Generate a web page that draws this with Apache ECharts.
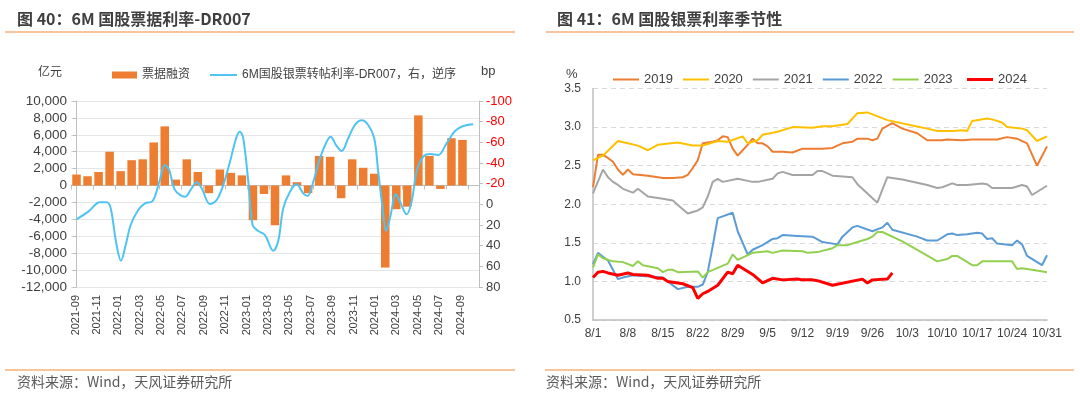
<!DOCTYPE html>
<html><head><meta charset="utf-8">
<script src="https://cdn.jsdelivr.net/npm/echarts@6/dist/echarts.min.js"></script>
<style>html,body{margin:0;padding:0;background:#fff}#c{width:1080px;height:395px}</style>
</head><body><div id="c"></div>
<script>
// ---------- Left chart data ----------
const months = ['2021-09','2021-10','2021-11','2021-12','2022-01','2022-02','2022-03','2022-04','2022-05','2022-06','2022-07','2022-08','2022-09','2022-10','2022-11','2022-12','2023-01','2023-02','2023-03','2023-04','2023-05','2023-06','2023-07','2023-08','2023-09','2023-10','2023-11','2023-12','2024-01','2024-02','2024-03','2024-04','2024-05','2024-06','2024-07','2024-08','2024-09'];
const billFinancing = [1300,1100,1600,4000,1700,3000,3100,5100,7000,700,3100,1600,-900,1900,1500,1200,-4100,-1000,-4700,1200,400,-900,3500,3400,-1500,3100,2100,1400,-9700,-2800,-2500,8300,3500,-400,5600,5400,null];
// spread line: position in months from 2021-09, value in bp
const spreadPos = [0,1.07,2.13,2.74,3.1,3.58,4.03,4.46,4.91,5.6,6.21,6.91,7.51,8.02,8.41,8.93,9.84,10.44,10.9,11.35,12.1,12.71,13.31,13.92,14.52,14.82,15.12,15.58,15.97,16.48,17.09,17.84,18.3,18.75,19.36,19.96,20.56,20.96,21.47,22.08,22.68,23.05,23.53,24.04,24.64,25.25,25.86,26.45,27.0,27.36,27.76,28.06,28.42,28.97,29.33,29.94,30.39,30.84,31.44,32.05,32.8,33.56,34.32,35.07,35.97];
const spreadBp = [14.5,7.1,-2,-2,3.8,36,54.5,39.4,20,5.5,-1,-3.2,-21.9,-38,-33,-13.9,-7.4,-15.5,-21.3,-15.5,-0.3,-4.2,-18.7,-41.3,-65.5,-70.3,-63.9,-21.9,20,25.8,29.7,45,35,3.8,-12.2,-19.4,-10.6,-8.1,-21.9,-44.5,-60.6,-65.5,-57.4,-51.6,-63.9,-76.8,-81.3,-76.8,-63.9,-31.6,3.8,25.8,13.5,-9.7,-2.6,9.7,-2.6,-31.6,-46.1,-48.7,-47.7,-59,-71,-75.8,-77.5];
const barName = '票据融资';
const lineName = '6M国股银票转帖利率-DR007，右，逆序';

// ---------- Right chart data ----------
const dayLabels = [];
[[8,31],[9,30],[10,31]].forEach(([m,n]) => { for (let d = 1; d <= n; d++) dayLabels.push(m + '/' + d); });
const years = ['2019','2020','2021','2022','2023','2024'];
const s2019 = [[0,2.22],[1,2.64],[2,2.64],[3,2.60],[4,2.55],[5,2.45],[6,2.38],[7,2.45],[8,2.39],[11,2.37],[13,2.35],[14,2.34],[16,2.34],[18,2.35],[19,2.38],[20,2.47],[21,2.57],[22,2.79],[24,2.81],[25,2.83],[26,2.88],[27,2.87],[28,2.72],[29,2.63],[30,2.70],[31,2.77],[32,2.85],[33,2.79],[34,2.79],[35,2.75],[36,2.68],[38,2.68],[40,2.67],[42,2.72],[44,2.72],[46,2.72],[48,2.73],[50,2.79],[52,2.81],[53,2.85],[55,2.85],[56,2.83],[57,2.85],[58,2.98],[60,3.05],[62,2.98],[65,2.92],[67,2.83],[70,2.83],[71,2.84],[74,2.83],[76,2.84],[81,2.84],[83,2.87],[85,2.85],[87,2.79],[89,2.50],[91,2.75]];
const s2020 = [[0,2.57],[2,2.63],[5,2.82],[7,2.79],[9,2.76],[11,2.70],[13,2.77],[17,2.80],[20,2.76],[22,2.76],[23,2.78],[25,2.82],[27,2.81],[30,2.88],[31,2.79],[33,2.83],[34,2.90],[37,2.94],[40,3.00],[44,2.99],[46,3.01],[48,3.01],[51,3.04],[53,3.18],[55,3.19],[59,3.09],[64,3.02],[67,2.98],[69,2.95],[72,2.95],[74,2.96],[75,2.95],[76,3.08],[79,3.11],[80,3.10],[82,3.06],[83,3.00],[86,2.98],[87,2.96],[89,2.82],[91,2.88]];
const s2021 = [[0,2.14],[2,2.45],[3,2.35],[4,2.29],[5,2.25],[6,2.20],[8,2.15],[9,2.20],[11,2.10],[14,2.07],[16,2.05],[17,1.99],[19,1.88],[21,1.92],[22,1.96],[23,2.10],[24,2.29],[25,2.33],[26,2.29],[29,2.33],[32,2.29],[33,2.29],[36,2.33],[37,2.40],[38,2.42],[40,2.38],[44,2.38],[45,2.43],[46,2.43],[48,2.37],[52,2.35],[53,2.26],[55,2.14],[57,2.02],[58,2.19],[59,2.35],[62,2.32],[67,2.25],[69,2.21],[70,2.22],[72,2.27],[73,2.25],[75,2.25],[78,2.27],[79,2.26],[80,2.21],[84,2.21],[86,2.25],[87,2.23],[88,2.12],[91,2.24]];
const s2022 = [[0,1.22],[1,1.37],[2,1.32],[3,1.27],[5,1.03],[6,1.05],[8,1.08],[12,1.06],[14,1.05],[15,1.00],[17,0.90],[19,0.93],[21,0.93],[22,0.96],[23,1.12],[24,1.46],[25,1.82],[28,1.89],[29,1.65],[31,1.35],[32,1.41],[34,1.47],[36,1.55],[37,1.56],[38,1.60],[41,1.59],[44,1.58],[46,1.51],[49,1.48],[50,1.58],[52,1.70],[53,1.72],[56,1.65],[58,1.70],[59,1.76],[60,1.67],[65,1.58],[67,1.53],[69,1.53],[71,1.61],[72,1.62],[73,1.60],[75,1.61],[77,1.63],[78,1.62],[79,1.55],[80,1.56],[81,1.49],[84,1.47],[85,1.53],[86,1.48],[87,1.33],[90,1.21],[91,1.34]];
const s2023 = [[0,1.18],[1,1.35],[2,1.30],[4,1.26],[6,1.25],[8,1.20],[9,1.26],[10,1.21],[13,1.17],[14,1.12],[15,1.15],[16,1.15],[17,1.12],[21,1.13],[22,1.05],[23,1.12],[27,1.23],[28,1.35],[29,1.28],[32,1.37],[35,1.39],[36,1.37],[38,1.40],[42,1.39],[43,1.37],[45,1.38],[48,1.43],[49,1.47],[51,1.47],[53,1.51],[55,1.55],[56,1.58],[57,1.64],[58,1.64],[62,1.52],[65,1.41],[69,1.26],[71,1.29],[72,1.33],[73,1.33],[76,1.21],[77,1.21],[78,1.26],[84,1.26],[85,1.16],[86,1.17],[88,1.15],[91,1.12]];
const s2024 = [[0,1.05],[1,1.12],[2,1.13],[3,1.11],[5,1.08],[7,1.11],[8,1.09],[11,1.08],[13,1.04],[14,1.04],[15,1.00],[18,0.97],[20,0.92],[21,0.78],[22,0.84],[23,0.87],[25,0.95],[27,1.12],[28,1.10],[29,1.21],[32,1.09],[34,0.98],[36,1.04],[38,1.02],[41,1.03],[42,1.02],[44,1.02],[45,1.01],[48,0.95],[54,1.03],[55,0.98],[56,1.02],[59,1.03],[60,1.11]];
const yearSeries = [s2019, s2020, s2021, s2022, s2023, s2024];
const yearColors = ['#ED7D31','#FFC000','#A5A5A5','#5B9BD5','#92D050','#FF0000'];
const yearWidths = [2,2,2,2,2,3];

const FONT = "'Liberation Sans', 'Noto Sans CJK SC', sans-serif";
const CJK = "'Noto Sans CJK SC', sans-serif";
const AX = '#BFBFBF', TXT = '#404040';

const chart = echarts.init(document.getElementById('c'), null, {renderer: 'canvas'});
const legendText = {fontSize: 12, color: TXT, fontFamily: FONT};
const option = {
  animation: false,
  textStyle: {fontFamily: FONT},
  grid: [
    {left: 71, top: 101, width: 408, height: 186},
    {left: 593, top: 88.5, width: 454, height: 231.5},
    {left: 75.5, top: 101, width: 385, height: 186}
  ],
  legend: [
    {data: [barName], left: 107, top: 64, itemWidth: 25, itemHeight: 7, icon: 'rect', textStyle: legendText},
    {data: [lineName], left: 205, top: 64, itemWidth: 27, itemHeight: 2, icon: 'rect', textStyle: legendText},
    {data: years.slice(0, 5), left: 608, top: 68, itemWidth: 26, itemHeight: 2, itemGap: 10, icon: 'rect',
     textStyle: {fontSize: 13, color: TXT, fontFamily: FONT}},
    {data: ['2024'], left: 962, top: 68, itemWidth: 26, itemHeight: 3, icon: 'rect',
     textStyle: {fontSize: 13, color: TXT, fontFamily: FONT}}
  ],
  xAxis: [
    {type: 'category', gridIndex: 0, data: months, boundaryGap: true,
     axisLine: {onZero: true, onZeroAxisIndex: 0, lineStyle: {color: AX}},
     axisTick: {show: true, interval: 1, length: 4, lineStyle: {color: AX}},
     axisLabel: {show: false}, splitLine: {show: false}},
    {type: 'category', gridIndex: 2, data: months, boundaryGap: false, position: 'bottom',
     axisLine: {show: false, onZero: false}, axisTick: {show: false},
     axisLabel: {rotate: 90, interval: 1, fontSize: 11, color: TXT, margin: 8}, splitLine: {show: false}},
    {type: 'value', gridIndex: 0, min: -0.5, max: 36.5, show: false},
    {type: 'category', gridIndex: 1, data: dayLabels, boundaryGap: false,
     axisLine: {lineStyle: {color: AX, width: 1.5}}, axisTick: {show: false},
     axisLabel: {interval: 6, fontSize: 12, color: TXT, margin: 8}, splitLine: {show: false}}
  ],
  yAxis: [
    {type: 'value', gridIndex: 0, min: -12000, max: 10000, interval: 2000,
     axisLine: {show: true, lineStyle: {color: AX}},
     axisTick: {show: true, length: 4, lineStyle: {color: AX}},
     axisLabel: {fontSize: 13.5, color: TXT, margin: 4, formatter: v => v.toLocaleString('en-US')},
     splitLine: {lineStyle: {color: '#E6E6E6'}}},
    {type: 'value', gridIndex: 0, position: 'right', inverse: true, min: -100, max: 80, interval: 20,
     axisLine: {show: true, lineStyle: {color: AX}},
     axisTick: {show: true, length: 4, lineStyle: {color: AX}},
     axisLabel: {margin: 7, formatter: v => (v < 0 ? '{r|' + v + '}' : '{k|' + v + '}'),
       rich: {r: {color: '#FF0000', fontSize: 13, fontFamily: FONT}, k: {color: TXT, fontSize: 13, fontFamily: FONT}}},
     splitLine: {show: false}},
    {type: 'value', gridIndex: 1, min: 0.5, max: 3.5, interval: 0.5,
     axisLine: {show: true, lineStyle: {color: AX, width: 1.5}}, axisTick: {show: false},
     axisLabel: {fontSize: 12, color: TXT, margin: 12, formatter: v => v.toFixed(1)},
     splitLine: {lineStyle: {color: '#D9D9D9', type: [5, 4]}}},
    {type: 'value', gridIndex: 2, show: false}
  ],
  series: [
    {name: barName, type: 'bar', xAxisIndex: 0, yAxisIndex: 0, data: billFinancing,
     barWidth: 8.5, itemStyle: {color: '#ED7D31'}, z: 2},
    {name: lineName, type: 'line', xAxisIndex: 2, yAxisIndex: 1,
     data: spreadPos.map((p, i) => [p, spreadBp[i]]),
     smooth: 0.35, symbol: 'none', lineStyle: {color: '#4FC4F2', width: 2}, itemStyle: {color: '#4FC4F2'}, z: 3}
  ].concat(years.map((y, i) => ({
    name: y, type: 'line', xAxisIndex: 3, yAxisIndex: 2, data: yearSeries[i],
    symbol: 'none', lineStyle: {color: yearColors[i], width: yearWidths[i]}, itemStyle: {color: yearColors[i]},
    z: 3 + i
  }))),
  graphic: [
    {type: 'text', x: 17, y: 19, style: {text: '图 40：6M 国股票据利率-DR007', font: 'bold 16px ' + CJK, fill: '#3F3F3F', verticalAlign: 'middle'}},
    {type: 'text', x: 557, y: 19, style: {text: '图 41：6M 国股银票利率季节性', font: 'bold 16px ' + CJK, fill: '#3F3F3F', verticalAlign: 'middle'}},
    {type: 'line', shape: {x1: 5, y1: 32, x2: 515, y2: 32}, style: {stroke: '#EE8A3E', lineWidth: 1.2}},
    {type: 'line', shape: {x1: 546, y1: 32, x2: 1074, y2: 32}, style: {stroke: '#EE8A3E', lineWidth: 1.2}},
    {type: 'line', shape: {x1: 5, y1: 370, x2: 515, y2: 370}, style: {stroke: '#F6B27A', lineWidth: 1.5}},
    {type: 'line', shape: {x1: 545, y1: 370, x2: 1074, y2: 370}, style: {stroke: '#F6B27A', lineWidth: 1.5}},
    {type: 'text', x: 17, y: 382, style: {text: '资料来源：Wind，天风证券研究所', font: '14px ' + CJK, fill: '#595959', verticalAlign: 'middle'}},
    {type: 'text', x: 546, y: 382, style: {text: '资料来源：Wind，天风证券研究所', font: '14px ' + CJK, fill: '#595959', verticalAlign: 'middle'}},
    {type: 'text', x: 38, y: 71, style: {text: '亿元', font: '12px ' + CJK, fill: TXT, verticalAlign: 'middle'}},
    {type: 'text', x: 481, y: 71, style: {text: 'bp', font: '13px ' + FONT, fill: TXT, verticalAlign: 'middle'}},
    {type: 'text', x: 566, y: 74, style: {text: '%', font: '13px ' + FONT, fill: TXT, verticalAlign: 'middle'}}
  ]
};
chart.setOption(option);
</script></body></html>
